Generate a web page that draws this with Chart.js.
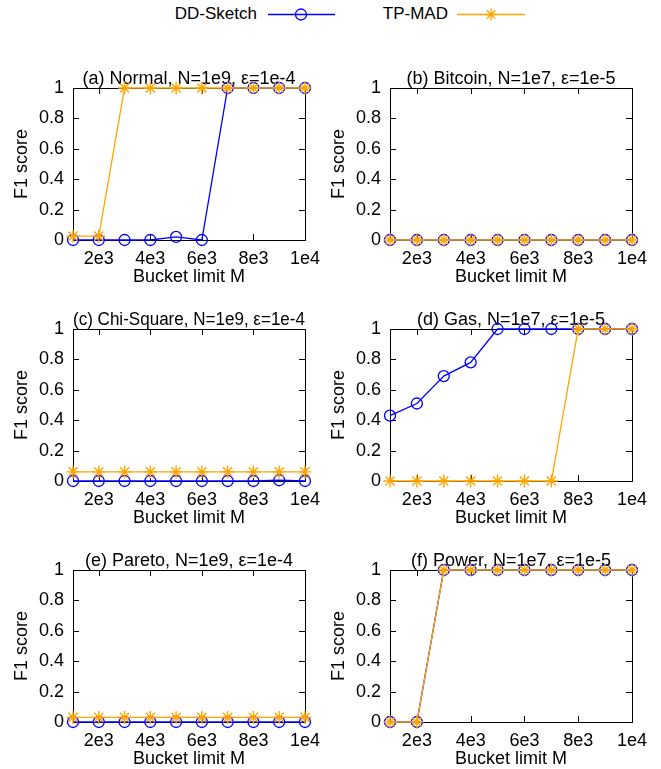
<!DOCTYPE html>
<html>
<head>
<meta charset="utf-8">
<script src="https://cdn.jsdelivr.net/npm/chart.js@4.4.0/dist/chart.umd.min.js"></script>
<style>
  body { margin: 0; background: #fff; width: 661px; height: 769px; overflow: hidden; position: relative;
         font-family: 'Liberation Sans', Arial, sans-serif; color: #000; }
  .panel { position: absolute; }
  .key-text { position: absolute; top: 4px; font-size: 17px; line-height: 20px; white-space: nowrap; }
  .key-line { position: absolute; top: 4px; }
</style>
</head>
<body>

<span class="key-text" style="right:404px">DD-Sketch</span>
<svg class="key-line" style="left:266px" width="70" height="20">
  <line x1="2" y1="10.5" x2="69" y2="10.5" stroke="#0000ff" stroke-width="1.3"/>
  <circle cx="35" cy="10.5" r="5.5" fill="none" stroke="#0000ff" stroke-width="1.3"/>
</svg>
<span class="key-text" style="right:213px">TP-MAD</span>
<svg class="key-line" style="left:455px" width="72" height="20">
  <line x1="2" y1="10.5" x2="70" y2="10.5" stroke="#ffa500" stroke-width="1.3"/>
  <path d="M36 4.5v12M30 10.5h12M31.8 6.3l8.4 8.4M40.2 6.3l-8.4 8.4" stroke="#ffa500" stroke-width="1.3"/>
</svg>

<div class="panel" style="left:0;top:70px"><canvas id="chartA" width="330" height="217"></canvas></div>
<div class="panel" style="left:330px;top:70px"><canvas id="chartB" width="331" height="217"></canvas></div>
<div class="panel" style="left:0;top:311px"><canvas id="chartC" width="330" height="217"></canvas></div>
<div class="panel" style="left:330px;top:311px"><canvas id="chartD" width="331" height="217"></canvas></div>
<div class="panel" style="left:0;top:552px"><canvas id="chartE" width="330" height="217"></canvas></div>
<div class="panel" style="left:330px;top:552px"><canvas id="chartF" width="331" height="217"></canvas></div>

<script>
// bucket limit M on the x axis
const bucketLimits = [1000, 2000, 3000, 4000, 5000, 6000, 7000, 8000, 9000, 10000];
const xTickValues = [2000, 4000, 6000, 8000, 10000];
const xTickLabels = ['2e3', '4e3', '6e3', '8e3', '1e4'];
const yTickValues = [0, 0.2, 0.4, 0.6, 0.8, 1];
const yTickLabels = ['0', '0.2', '0.4', '0.6', '0.8', '1'];

// F1 scores
const normalDD  = [0, 0, 0, 0, 0.02, 0, 1, 1, 1, 1];
const normalTP  = [0.025, 0.025, 1, 1, 1, 1, 1, 1, 1, 1];
const bitcoinDD = [0, 0, 0, 0, 0, 0, 0, 0, 0, 0];
const bitcoinTP = [0, 0, 0, 0, 0, 0, 0, 0, 0, 0];
const chiDD     = [0, 0, 0, 0, 0, 0, 0, 0, 0.005, 0];
const chiTP     = [0.06, 0.06, 0.06, 0.06, 0.06, 0.06, 0.06, 0.06, 0.06, 0.06];
const gasDD     = [0.43, 0.51, 0.69, 0.78, 1, 1, 1, 1, 1, 1];
const gasTP     = [0, 0, 0, 0, 0, 0, 0, 1, 1, 1];
const paretoDD  = [0, 0, 0, 0, 0, 0, 0, 0, 0, 0];
const paretoTP  = [0.03, 0.03, 0.03, 0.03, 0.03, 0.03, 0.03, 0.03, 0.03, 0.03];
const powerDD   = [0, 0, 1, 1, 1, 1, 1, 1, 1, 1];
const powerTP   = [0, 0, 1, 1, 1, 1, 1, 1, 1, 1];

const panels = [
    { id: 'chartA', col: 0, title: '(a) Normal, N=1e9, ε=1e-4', dd: normalDD, tp: normalTP },
    { id: 'chartB', col: 1, title: '(b) Bitcoin, N=1e7, ε=1e-5', dd: bitcoinDD, tp: bitcoinTP },
    { id: 'chartC', col: 0, title: '(c) Chi-Square, N=1e9, ε=1e-4', dd: chiDD, tp: chiTP },
    { id: 'chartD', col: 1, title: '(d) Gas, N=1e7, ε=1e-5', dd: gasDD, tp: gasTP },
    { id: 'chartE', col: 0, title: '(e) Pareto, N=1e9, ε=1e-4', dd: paretoDD, tp: paretoTP },
    { id: 'chartF', col: 1, title: '(f) Power, N=1e7, ε=1e-5', dd: powerDD, tp: powerTP },
];

Chart.defaults.color = '#000';
Chart.defaults.font.family = "'Liberation Sans', Arial, sans-serif";

const textFont = { size: 18, lineHeight: '18px' };

// gnuplot style box with inward ticks on all four sides
const frameTicks = {
    id: 'frameTicks',
    beforeDatasetsDraw(chart) {
        const { ctx, chartArea: a, scales: { x, y } } = chart;
        ctx.save();
        ctx.strokeStyle = '#000';
        ctx.lineWidth = 1;
        ctx.beginPath();
        for (const v of xTickValues) {
            const px = Math.round(x.getPixelForValue(v)) + 0.5;
            ctx.moveTo(px, a.bottom); ctx.lineTo(px, a.bottom - 6);
            ctx.moveTo(px, a.top); ctx.lineTo(px, a.top + 6);
        }
        for (const v of yTickValues) {
            const py = Math.round(y.getPixelForValue(v)) + 0.5;
            ctx.moveTo(a.left, py); ctx.lineTo(a.left + 6, py);
            ctx.moveTo(a.right, py); ctx.lineTo(a.right - 6, py);
        }
        ctx.stroke();
        ctx.strokeRect(Math.round(a.left) + 0.5, Math.round(a.top) + 0.5,
            Math.round(a.right - a.left), Math.round(a.bottom - a.top));
        ctx.restore();
    }
};

function toPoints(values) {
    return bucketLimits.map((m, i) => ({ x: m, y: values[i] }));
}

for (const p of panels) {
    const yAxisWidth = p.col === 0 ? 73 : 60;
    new Chart(document.getElementById(p.id), {
        type: 'line',
        data: {
            datasets: [
                {
                    label: 'DD-Sketch',
                    data: toPoints(p.dd),
                    borderColor: '#0000ff',
                    borderWidth: 1.3,
                    pointStyle: 'circle',
                    pointRadius: 5.5,
                    pointBorderWidth: 1.3,
                    pointBorderColor: '#0000ff',
                    pointBackgroundColor: 'rgba(0,0,0,0)',
                    tension: 0,
                    clip: false,
                    order: 2
                },
                {
                    label: 'TP-MAD',
                    data: toPoints(p.tp),
                    borderColor: '#ffa500',
                    borderWidth: 1.3,
                    pointStyle: 'star',
                    pointRadius: 6.5,
                    pointBorderWidth: 1.4,
                    pointBorderColor: '#ffa500',
                    pointBackgroundColor: '#ffa500',
                    tension: 0,
                    clip: false,
                    order: 1
                }
            ]
        },
        options: {
            responsive: false,
            animation: false,
            events: [],
            layout: {
                padding: { left: 0, right: p.col === 0 ? 15 : 29, top: 0, bottom: 0 }
            },
            plugins: {
                legend: { display: false },
                tooltip: { enabled: false },
                title: {
                    display: true,
                    text: p.title,
                    fullSize: false,
                    font: { size: 18, lineHeight: '18px', weight: 'normal' },
                    color: '#000',
                    padding: 0
                }
            },
            scales: {
                x: {
                    type: 'linear',
                    min: 1000,
                    max: 10000,
                    grid: { display: false, drawTicks: false },
                    border: { display: false },
                    afterBuildTicks: s => { s.ticks = xTickValues.map(v => ({ value: v })); },
                    afterFit: s => { s.height = 47; },
                    ticks: {
                        font: textFont,
                        padding: 10,
                        maxRotation: 0,
                        autoSkip: false,
                        callback: v => xTickLabels[xTickValues.indexOf(v)]
                    },
                    title: {
                        display: true,
                        text: 'Bucket limit M',
                        font: textFont,
                        padding: { top: 0, bottom: 1 }
                    }
                },
                y: {
                    type: 'linear',
                    min: 0,
                    max: 1,
                    grid: { display: false, drawTicks: false },
                    border: { display: false },
                    afterBuildTicks: s => { s.ticks = yTickValues.map(v => ({ value: v })); },
                    afterFit: s => { s.width = yAxisWidth; },
                    ticks: {
                        font: textFont,
                        padding: 9,
                        callback: v => yTickLabels[yTickValues.indexOf(v)]
                    },
                    title: {
                        display: true,
                        text: 'F1 score',
                        font: textFont,
                        padding: { top: p.col === 0 ? 13 : 0, bottom: 0 }
                    }
                }
            }
        },
        plugins: [frameTicks]
    });
}
</script>
</body>
</html>
